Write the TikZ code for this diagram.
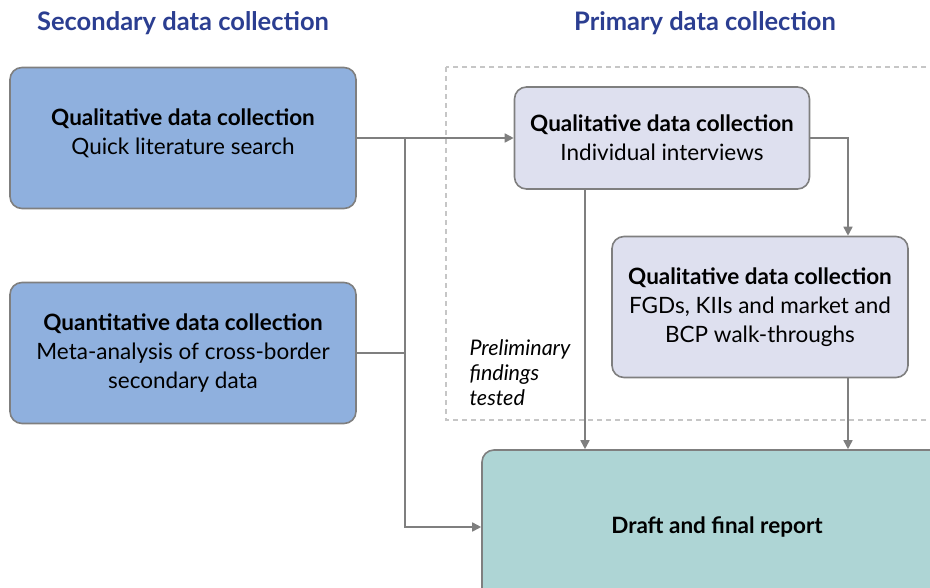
\documentclass[tikz,border=0pt]{standalone}
\usepackage{fontspec}
\setmainfont{Lato}
\usepackage{xcolor}
\usetikzlibrary{arrows.meta,positioning,calc}
\definecolor{secfill}{HTML}{8FB0DE}
\definecolor{primfill}{HTML}{DEE0EF}
\definecolor{repfill}{HTML}{AED5D5}
\definecolor{edge}{HTML}{7F7F7F}
\definecolor{headblue}{HTML}{2B3E91}
\tikzset{
  box/.style={rectangle, rounded corners=12pt, draw=edge, line width=1.6pt,
    align=center, font=\fontsize{22.5}{29}\selectfont, inner sep=4pt},
  secbox/.style={box, fill=secfill, minimum width=346pt, minimum height=141pt},
  primbox/.style={box, fill=primfill, minimum width=295pt},
  repbox/.style={box, fill=repfill, minimum width=470pt, minimum height=154pt},
  head/.style={font=\fontsize{25.5}{30}\selectfont\bfseries, text=headblue},
  flow/.style={-{Triangle[length=9pt,width=9pt]}, draw=edge, line width=1.6pt},
  link/.style={draw=edge, line width=1.6pt},
}
\begin{document}
\begin{tikzpicture}[x=1pt, y=-1pt]
\useasboundingbox (0,0) rectangle (930,587);
\clip (0,0) rectangle (930,587);
% headings
\node[head] (sechead) at (183,23) {Secondary data collection};
\node[head] (primhead) at (705,23) {Primary data collection};
% primary area
\draw[gray!45, dashed, line width=1.4pt, dash pattern=on 5pt off 4pt] (446,67) rectangle (945,420);
% secondary
\node[secbox] (qual) at (183,138) {\textbf{Qualitative data collection}\\Quick literature search\\[-17pt]};
\node[secbox] (quant) at (183,353) {\textbf{Quantitative data collection}\\Meta-analysis of cross-border\\secondary data};
% primary
\node[primbox, minimum height=102pt] (intv) at (662,138) {\textbf{Qualitative data collection}\\Individual interviews};
\node[primbox, minimum width=296pt, minimum height=141pt] (fgd) at (760,307) {\textbf{Qualitative data collection}\\FGDs, KIIs and market and\\BCP walk-throughs};
\node[repbox] (report) at (717,527) {\textbf{Draft and final report}};
\node[font=\fontsize{21.5}{25}\selectfont\itshape, align=left, anchor=north west] (prelim) at (466,336) {Preliminary\\findings\\tested};
% connectors
\coordinate (trunk) at (405,138);
\draw[flow] (qual.east) -- (intv.west);
\draw[flow] (trunk) |- (report.west);
\draw[link] (quant.east) -- (quant.east -| trunk);
\draw[flow] (intv.east) -| ([xshift=88pt]fgd.north);
\draw[flow] ([xshift=-77pt]intv.south) -- ([xshift=-77pt]intv.south |- report.north);
\draw[flow] ([xshift=88pt]fgd.south) -- ([xshift=88pt]fgd.south |- report.north);
\end{tikzpicture}
\end{document}
